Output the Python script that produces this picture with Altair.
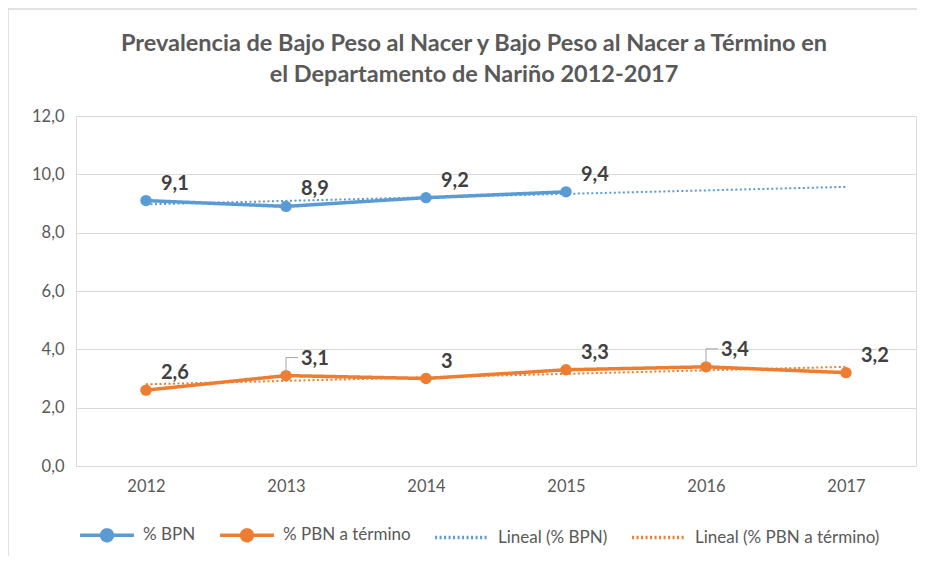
import altair as alt
import pandas as pd

# ---- data ----
years = [2012, 2013, 2014, 2015, 2016, 2017]
bpn_years = [2012, 2013, 2014, 2015]
bpn_values = [9.1, 8.9, 9.2, 9.4]
pbn_values = [2.6, 3.1, 3.0, 3.3, 3.4, 3.2]
series_names = ["% BPN", "% PBN a término"]
legend_names = ["% BPN", "% PBN a término", "Lineal (% BPN)", "Lineal (% PBN a término)"]
leader_years = [2013, 2016]          # PBN labels that carry a leader line
y_ticks = [0, 2, 4, 6, 8, 10, 12]
title_lines = ["Prevalencia de Bajo Peso al Nacer y Bajo Peso al Nacer a Término en",
               "el Departamento de Nariño 2012-2017"]

BLUE = "#5B9BD5"
ORANGE = "#ED7D31"
FONT = "Lato"
GRAY = "#595959"
LINE_DOT = "M-1,0L1,0M0.2,0A0.2,0.2,0,1,1,-0.2,0A0.2,0.2,0,1,1,0.2,0"

df = pd.DataFrame({
    "year": bpn_years + years,
    "value": bpn_values + pbn_values,
    "series": [series_names[0]] * len(bpn_years) + [series_names[1]] * len(years),
})
one = pd.DataFrame({"k": [0]})

legend = alt.Legend(
    title=None, orient="none", legendX=2, legendY=390, direction="horizontal", columns=4,
    labelFont=FONT, labelFontSize=17, labelColor=GRAY, labelOffset=7, columnPadding=17,
    labelLimit=400, symbolSize=2900, symbolStrokeWidth=3.5,
)
color = alt.Color("series:N", scale=alt.Scale(domain=legend_names, range=[BLUE, ORANGE, BLUE, ORANGE]),
                  legend=legend)
shape = alt.Shape("series:N", scale=alt.Scale(domain=legend_names,
                                              range=[LINE_DOT, LINE_DOT, "stroke", "stroke"]),
                  legend=legend)
dash = alt.StrokeDash("series:N", scale=alt.Scale(domain=legend_names,
                                                  range=[[1, 0], [1, 0], [2, 2.5], [2, 2.5]]),
                      legend=legend)

x = alt.X("year:Q",
          scale=alt.Scale(domain=[2011.5, 2017.5], nice=False, zero=False),
          axis=alt.Axis(values=years, format="d", title=None, grid=False, domain=False,
                        ticks=False, labelPadding=12, labelFontSize=16.5, labelColor=GRAY,
                        labelFont=FONT))
y = alt.Y("value:Q",
          scale=alt.Scale(domain=[0, 12], nice=False),
          axis=alt.Axis(values=y_ticks, title=None, domain=False, ticks=False, labelPadding=12,
                        labelExpr="replace(format(datum.value, '.1f'), '.', ',')",
                        labelFontSize=16.5, labelColor=GRAY, labelFont=FONT,
                        gridColor="#D9D9D9", gridWidth=1))

base = alt.Chart(df)

# chart border (top and left edges, as in the reference crop)
border_top = alt.Chart(one).mark_rule(color="#D9D9D9", strokeWidth=1.5).encode(
    x=alt.value(-68), x2=alt.value(2000), y=alt.value(-107))
border_left = alt.Chart(one).mark_rule(color="#D9D9D9", strokeWidth=1.5).encode(
    x=alt.value(-68), y=alt.value(-107), y2=alt.value(700))

title = alt.Chart(one).mark_text(
    font=FONT, fontSize=23.5, fontWeight="bold", color=GRAY, align="center",
    baseline="middle", lineHeight=31
).encode(x=alt.value(398), y=alt.value(-72), text=alt.value(title_lines))

trend = base.transform_regression(
    "year", "value", groupby=["series"], extent=[2012, 2017], method="linear"
).transform_calculate(
    series="'Lineal (' + datum.series + ')'"
).mark_line(strokeWidth=2).encode(x=x, y=y, color=color, strokeDash=dash)

lines = base.mark_line(strokeWidth=3.5).encode(x=x, y=y, color=color, strokeDash=dash)
points = base.mark_point(filled=True, size=130, opacity=1, shape="circle").encode(x=x, y=y, color=color)
labels = base.transform_calculate(
    label="replace(toString(datum.value), '.', ',')"
).mark_text(align="left", baseline="middle", dx=15, dy=-17, fontSize=20, fontWeight="bold",
            font=FONT, color="#404040").encode(x=x, y=y, text="label:N")

leader_base = base.transform_filter(
    alt.FieldOneOfPredicate(field="year", oneOf=leader_years)
).transform_filter(alt.datum.series == series_names[1])
leader_v = leader_base.mark_rule(color="#A6A6A6", strokeWidth=1, yOffset=-3, y2Offset=-18).encode(
    x=x, y=y, y2="value:Q")
leader_h = leader_base.mark_rule(color="#A6A6A6", strokeWidth=1, yOffset=-18, y2Offset=-18,
                                 x2Offset=12).encode(x=x, x2="year:Q", y=y, y2="value:Q")

# invisible layer that carries the shape channel for the legend
legend_carrier = base.mark_point(filled=True, opacity=0, size=1).encode(
    x=x, y=y, color=color, shape=shape)

chart = alt.layer(border_top, border_left, title, trend, lines, points, leader_v, leader_h,
                  labels, legend_carrier).properties(
    width=840, height=350,
    padding={"left": 68, "top": 108, "right": 1, "bottom": 90},
    autosize=alt.AutoSizeParams(type="none"),
).configure_view(stroke=None).configure(background="white")

chart.save("out.html", embed_options={"renderer": "svg", "actions": False})
